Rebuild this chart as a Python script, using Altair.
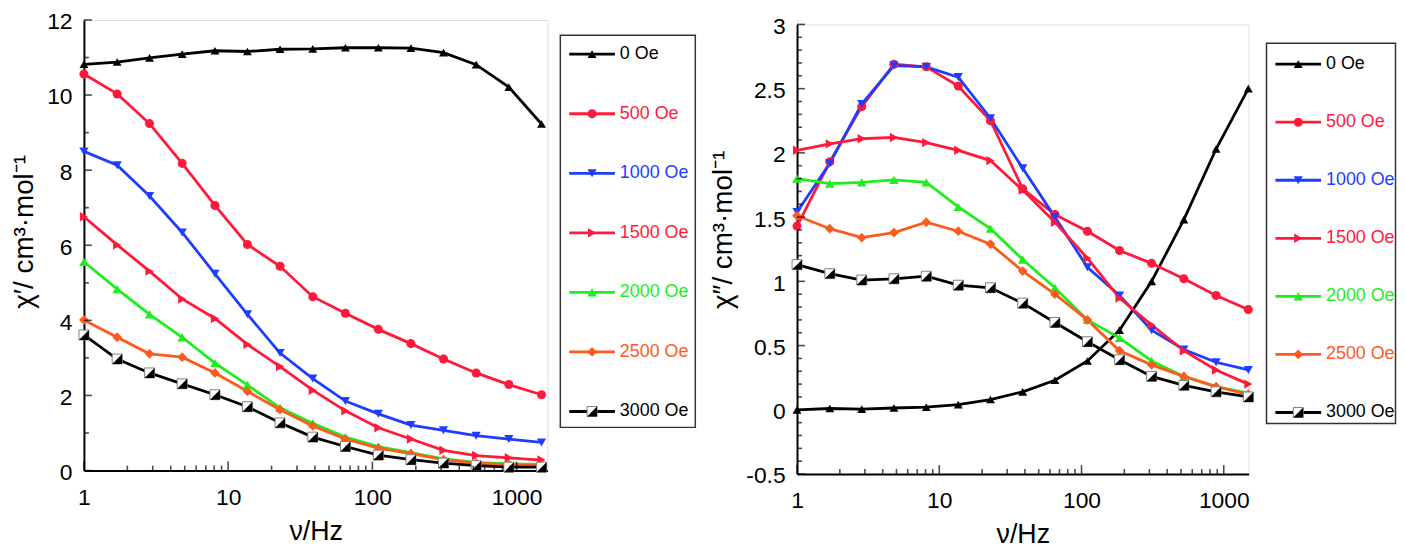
import altair as alt
import pandas as pd

# ---------------- data ----------------
freq = [1, 1.7, 2.85, 4.8, 8.1, 13.6, 22.9, 38.6, 65, 110, 185, 311, 524, 883, 1488]

series_names = ["0 Oe", "500 Oe", "1000 Oe", "1500 Oe", "2000 Oe", "2500 Oe", "3000 Oe"]
series_colors = ["#000000", "#FF1A3A", "#1F3DFF", "#FF1A3A", "#1EEE1E", "#FF5A1E", "#000000"]
series_shapes = ["triangle-up", "circle", "triangle-down", "triangle-right", "triangle-up", "diamond", "square"]
series_sizes = [80, 100, 80, 80, 80, 75, 100]

# chi' (left)
c1_0 = [10.82, 10.88, 10.99, 11.09, 11.18, 11.16, 11.22, 11.23, 11.26, 11.26, 11.25, 11.13, 10.81, 10.21, 9.23]
c1_500 = [10.56, 10.03, 9.24, 8.18, 7.06, 6.02, 5.44, 4.63, 4.19, 3.76, 3.38, 2.97, 2.60, 2.29, 2.02]
c1_1000 = [8.50, 8.13, 7.31, 6.34, 5.24, 4.16, 3.13, 2.45, 1.85, 1.51, 1.21, 1.07, 0.93, 0.84, 0.75]
c1_1500 = [6.76, 6.01, 5.31, 4.57, 4.05, 3.36, 2.77, 2.14, 1.59, 1.14, 0.84, 0.54, 0.40, 0.34, 0.28]
c1_2000 = [5.56, 4.83, 4.16, 3.55, 2.86, 2.28, 1.67, 1.26, 0.89, 0.64, 0.48, 0.31, 0.22, 0.18, 0.17]
c1_2500 = [4.01, 3.55, 3.11, 3.02, 2.60, 2.11, 1.62, 1.19, 0.84, 0.60, 0.45, 0.29, 0.20, 0.16, 0.13]
c1_3000 = [3.61, 2.97, 2.60, 2.31, 2.02, 1.70, 1.27, 0.89, 0.64, 0.41, 0.29, 0.20, 0.13, 0.09, 0.09]

# chi'' (right)
c2_0 = [0.0, 0.01, 0.005, 0.014, 0.02, 0.04, 0.08, 0.14, 0.23, 0.38, 0.62, 1.0, 1.48, 2.03, 2.50]
c2_500 = [1.43, 1.93, 2.36, 2.69, 2.67, 2.52, 2.25, 1.72, 1.52, 1.39, 1.24, 1.14, 1.02, 0.89, 0.78]
c2_1000 = [1.54, 1.92, 2.38, 2.68, 2.67, 2.59, 2.27, 1.88, 1.50, 1.11, 0.89, 0.62, 0.47, 0.37, 0.31]
c2_1500 = [2.02, 2.07, 2.11, 2.12, 2.08, 2.02, 1.94, 1.71, 1.46, 1.18, 0.87, 0.66, 0.46, 0.31, 0.20]
c2_2000 = [1.80, 1.76, 1.77, 1.79, 1.77, 1.58, 1.41, 1.17, 0.95, 0.70, 0.56, 0.38, 0.26, 0.18, 0.13]
c2_2500 = [1.51, 1.41, 1.34, 1.38, 1.46, 1.39, 1.29, 1.08, 0.90, 0.70, 0.46, 0.35, 0.26, 0.18, 0.12]
c2_3000 = [1.13, 1.06, 1.01, 1.02, 1.04, 0.97, 0.95, 0.83, 0.68, 0.53, 0.39, 0.26, 0.19, 0.14, 0.10]

x_major = [1, 10, 100, 1000]
x_minor = [2, 3, 4, 5, 6, 7, 8, 9, 20, 30, 40, 50, 60, 70, 80, 90, 200, 300, 400, 500, 600, 700, 800, 900]
y1_major = [0, 2, 4, 6, 8, 10, 12]
y1_minor = [1, 3, 5, 7, 9, 11]
y2_major = [-0.5, 0, 0.5, 1, 1.5, 2, 2.5, 3]
y2_minor = [-0.4, -0.3, -0.2, -0.1, 0.1, 0.2, 0.3, 0.4, 0.6, 0.7, 0.8, 0.9,
            1.1, 1.2, 1.3, 1.4, 1.6, 1.7, 1.8, 1.9, 2.1, 2.2, 2.3, 2.4,
            2.6, 2.7, 2.8, 2.9]

FONT = "Liberation Sans"
TRI_HALF = "M1,-1L1,1L-1,1Z"

cscale = alt.Scale(domain=series_names, range=series_colors)
shscale = alt.Scale(domain=series_names, range=series_shapes)
szscale = alt.Scale(domain=series_names, range=series_sizes)


def long_df(cols):
    rows = []
    for name, vals in zip(series_names, cols):
        for f, v in zip(freq, vals):
            rows.append({"series": name, "f": f, "v": v})
    return pd.DataFrame(rows)


def panel(df, W, H, xdom, ydom, ymaj, ymin, ytitle, title_shift, leg):
    # leg: (gap from plot, legend width, first entry y, entry gap, box top, box bottom)
    lgap, LWID, y0, gap, top, bottom = leg
    xs = alt.Scale(type="log", domain=xdom, nice=False)
    ys = alt.Scale(domain=ydom, nice=False, zero=False)
    xax = alt.Axis(values=x_major, format="d", ticks=False, grid=False, labelFlush=False,
                   labelOverlap=False, labelPadding=16, labelFontSize=23, labelFont=FONT,
                   labelColor="black", domainColor="black", domainWidth=2, title="ν/Hz",
                   titleFont=FONT, titleFontSize=27, titleFontWeight="normal",
                   titleColor="black", titlePadding=9)
    yax = alt.Axis(values=ymaj, labelExpr="toString(datum.value)", ticks=False, grid=False,
                   labelFlush=False, labelOverlap=False, labelPadding=12, labelOffset=2,
                   labelFontSize=23, labelFont=FONT, labelColor="black", domainColor="black",
                   domainWidth=2, title=ytitle, titleFont=FONT, titleFontSize=28,
                   titleFontWeight="normal", titleColor="black", titlePadding=8,
                   titleY=H / 2 + title_shift)
    base = alt.Chart(df)
    Xn = alt.X("f:Q", scale=xs, axis=None)
    Yn = alt.Y("v:Q", scale=ys, axis=None)
    col = alt.Color("series:N", scale=cscale, legend=None)
    shp = alt.Shape("series:N", scale=shscale, legend=None)
    siz = alt.Size("series:N", scale=szscale, legend=None)

    lines = base.mark_line(strokeWidth=2.8).encode(
        x=alt.X("f:Q", scale=xs, axis=xax), y=alt.Y("v:Q", scale=ys, axis=yax),
        color=col, detail="series:N")
    pts = base.transform_filter(alt.datum.series != "3000 Oe").mark_point(
        filled=True, opacity=1).encode(x=Xn, y=Yn, color=col, shape=shp, size=siz)
    sq = base.transform_filter(alt.datum.series == "3000 Oe").mark_point(
        shape="square", filled=True, fill="white", stroke="#808080", strokeWidth=1,
        size=100, opacity=1).encode(x=Xn, y=Yn)
    tri = base.transform_filter(alt.datum.series == "3000 Oe").mark_point(
        shape=TRI_HALF, filled=True, color="black", size=100, opacity=1).encode(x=Xn, y=Yn)

    def xticks(vals, size):
        return alt.Chart(pd.DataFrame({"t": vals})).mark_tick(
            orient="vertical", size=size, thickness=1.6, color="black", yOffset=-size / 2).encode(
            x=alt.X("t:Q", scale=xs, axis=None), y=alt.value(H))

    def yticks(vals, size):
        return alt.Chart(pd.DataFrame({"t": vals})).mark_tick(
            orient="horizontal", size=size, thickness=1.6, color="black", xOffset=size / 2).encode(
            y=alt.Y("t:Q", scale=ys, axis=None), x=alt.value(0))

    # ---- legend drawn to the right of the plot area ----
    ldf = pd.DataFrame({"series": series_names, "idx": list(range(len(series_names)))})
    lys = alt.Scale(domain=[-y0 / gap, (H - y0) / gap], reverse=True, nice=False, zero=False)
    LY = alt.Y("idx:Q", scale=lys, axis=None)
    L0 = W + lgap
    box = alt.Chart(pd.DataFrame({"a": [(top - y0) / gap], "b": [(bottom - y0) / gap]})).mark_rect(
        fillOpacity=0, stroke="#333333", strokeWidth=1.5).encode(
        x=alt.value(L0), x2=alt.value(L0 + LWID), y=alt.Y("a:Q", scale=lys, axis=None), y2="b:Q")
    lbase = alt.Chart(ldf)
    lrule = lbase.mark_rule(strokeWidth=2.8).encode(
        x=alt.value(L0 + 9), x2=alt.value(L0 + 55), y=LY, color=col)
    lpts = lbase.transform_filter(alt.datum.series != "3000 Oe").mark_point(
        filled=True, opacity=1).encode(x=alt.value(L0 + 32), y=LY, color=col, shape=shp, size=siz)
    lsq = lbase.transform_filter(alt.datum.series == "3000 Oe").mark_point(
        shape="square", filled=True, fill="white", stroke="#808080", strokeWidth=1,
        size=100, opacity=1).encode(x=alt.value(L0 + 32), y=LY)
    ltri = lbase.transform_filter(alt.datum.series == "3000 Oe").mark_point(
        shape=TRI_HALF, filled=True, color="black", size=100, opacity=1).encode(
        x=alt.value(L0 + 32), y=LY)
    ltxt = lbase.mark_text(align="left", baseline="middle", font=FONT, fontSize=18).encode(
        x=alt.value(L0 + 60), y=LY, text="series:N", color=col)

    return alt.layer(lines, pts, sq, tri,
                     xticks(x_major, 9), xticks(x_minor, 5),
                     yticks(ymaj, 8), yticks(ymin, 5),
                     box, lrule, lpts, lsq, ltri, ltxt).resolve_scale(
        x="independent", y="independent").properties(width=W, height=H)


LW, LH = 467, 454
RW, RH = 455, 453

left = panel(long_df([c1_0, c1_500, c1_1000, c1_1500, c1_2000, c1_2500, c1_3000]),
             LW, LH, [1, 1635], [0, 12], y1_major, y1_minor, "χ′/ cm³·mol⁻¹", -14,
             (13, 136, 34.5, 60, 15.5, 410.5))
right = panel(long_df([c2_0, c2_500, c2_1000, c2_1500, c2_2000, c2_2500, c2_3000]),
              RW, RH, [1, 1495], [-0.5, 3], y2_major, y2_minor, "χ″/ cm³·mol⁻¹", -20,
              (18, 130, 40, 58.5, 19, 402))

spacer = alt.Chart(pd.DataFrame({"s": [0]})).mark_point(opacity=0, size=1).encode(
    x=alt.value(0), y=alt.value(0)).properties(width=1, height=1)

chart = alt.hconcat(
    left,
    alt.vconcat(spacer, right, spacing=3.5, bounds="flush"),
    spacing=11.5,
).properties(padding={"left": 1.5, "top": 0, "right": 0, "bottom": 0}).configure_view(
    strokeWidth=0).configure(background="white")

chart.save("out.html", embed_options={"renderer": "svg", "actions": False})
